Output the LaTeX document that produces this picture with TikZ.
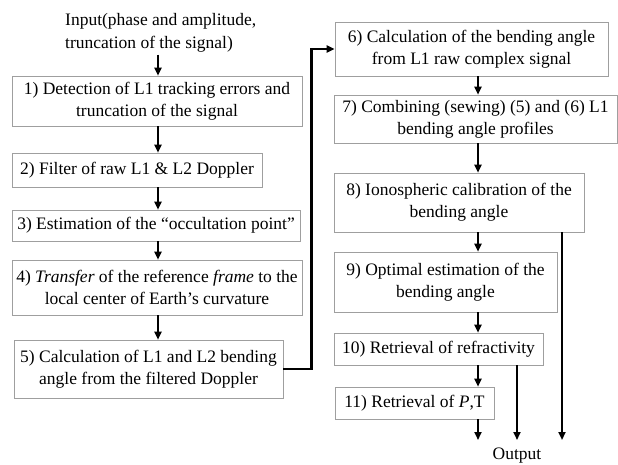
\documentclass[tikz,border=0pt]{standalone}
\usepackage{fontspec}
\setmainfont{Liberation Serif}
\usetikzlibrary{arrows.meta,positioning,calc}

\begin{document}
\begin{tikzpicture}[
  x=1pt, y=-1pt,
  stepbox/.style={draw=gray!75, line width=0.6pt, align=center,
    font=\fontsize{17.5}{22}\selectfont, inner sep=0pt},
  arr/.style={-{Triangle[width=7pt,length=8pt]}, line width=1.8pt},
  link/.style={-{Triangle[width=7pt,length=8pt]}, line width=2.6pt}
]
  \useasboundingbox (0,0) rectangle (618,464);

  % Input
  \node[align=left, anchor=west, inner sep=0pt,
    font=\fontsize{17.5}{23}\selectfont] (input) at (65,33)
    {Input(phase and amplitude,\\ truncation of the signal)};

  % Left column
  \node[stepbox, minimum width=290, minimum height=50] (b1) at (157,101)
    {1) Detection of L1 tracking errors and\\ truncation of the signal};
  \node[stepbox, minimum width=250, minimum height=34] (b2) at (137,170)
    {2) Filter of raw L1 \& L2 Doppler};
  \node[stepbox, minimum width=288, minimum height=31] (b3) at (156,225.5)
    {3) Estimation of the “occultation point”};
  \node[stepbox, minimum width=290, minimum height=55] (b4) at (157,287.5)
    {4) \textit{Transfer} of the reference \textit{frame} to the\\ local center of Earth’s curvature};
  \node[stepbox, minimum width=269, minimum height=58] (b5) at (148.5,369)
    {5) Calculation of L1 and L2 bending\\ angle from the filtered Doppler};

  % Right column
  \node[stepbox, minimum width=273, minimum height=54] (b6) at (471.5,49)
    {6) Calculation of the bending angle\\ from L1 raw complex signal};
  \node[stepbox, minimum width=283, minimum height=48] (b7) at (475.5,119)
    {7) Combining (sewing) (5) and (6) L1\\ bending angle profiles};
  \node[stepbox, minimum width=250, minimum height=59] (b8) at (459,202.5)
    {8) Ionospheric calibration of the\\ bending angle};
  \node[stepbox, minimum width=223, minimum height=60] (b9) at (445.5,282)
    {9) Optimal estimation of the\\ bending angle};
  \node[stepbox, minimum width=209, minimum height=32] (b10) at (438.5,349)
    {10) Retrieval of refractivity};
  \node[stepbox, minimum width=159, minimum height=32] (b11) at (414.5,403)
    {11) Retrieval of \textit{P},T};

  % Output
  \node[font=\fontsize{17.5}{20}\selectfont, inner sep=0pt] (output) at (517,456) {Output};
  \coordinate (spineL) at (158,0);
  \coordinate (spineR) at (478,0);
  \coordinate (out1) at (478,440);
  \coordinate (out2) at (517,440);
  \coordinate (out3) at (562,440);

  % Arrows
  \draw[arr] (input.south -| spineL) ++(0,2) -- (b1.north -| spineL);
  \draw[arr] (b1.south -| spineL) -- (b2.north -| spineL);
  \draw[arr] (b2.south -| spineL) -- (b3.north -| spineL);
  \draw[arr] (b3.south -| spineL) -- (b4.north -| spineL);
  \draw[arr] (b4.south -| spineL) -- (b5.north -| spineL);
  \draw[link] (b5.east) -- ++(28,0) |- (b6.west);
  \draw[arr] (b6.south -| spineR) -- (b7.north -| spineR);
  \draw[arr] (b7.south -| spineR) -- (b8.north -| spineR);
  \draw[arr] (b8.south -| spineR) -- (b9.north -| spineR);
  \draw[arr] (b9.south -| spineR) -- (b10.north -| spineR);
  \draw[arr] (b10.south -| spineR) -- (b11.north -| spineR);
  \draw[arr] (b11.south -| out1) -- (out1);
  \draw[arr] (b10.south -| out2) -- (out2);
  \draw[link] (b8.south -| out3) -- (out3);
\end{tikzpicture}
\end{document}
